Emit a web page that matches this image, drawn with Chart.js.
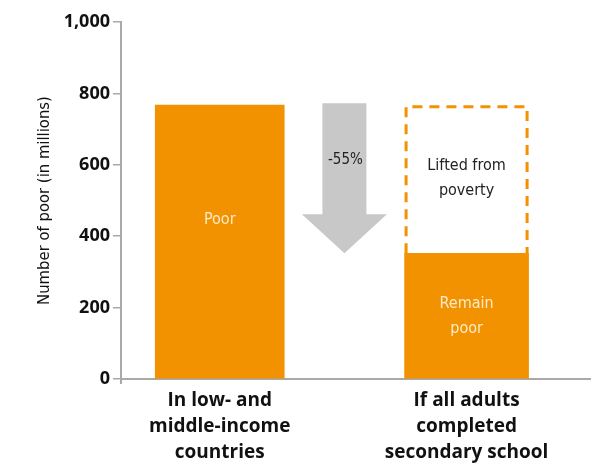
<!DOCTYPE html>
<html>
<head>
<meta charset="utf-8">
<script src="https://cdn.jsdelivr.net/npm/chart.js@4/dist/chart.umd.min.js"></script>
<style>
  html, body { margin: 0; padding: 0; background: #fff; }
  #wrap { width: 601px; height: 464px; position: relative; }
</style>
</head>
<body>
<div id="wrap"><canvas id="c" width="601" height="464"></canvas></div>
<script>
// Categories (x positions 1 and 2) and their multi-line labels
const categoryX = [1, 2];
const categoryLabels = [
  ['In low- and', 'middle-income', 'countries'],
  ['If all adults', 'completed', 'secondary school']
];
// Number of poor, in millions
const poorValues = [767, null];
const remainPoorValues = [null, 352];
const liftedFrom = [null, 352];
const liftedTo = [null, 767];
const changeLabel = '-55%';
const yTicks = [0, 200, 400, 600, 800, 1000];

const ORANGE = '#F29200';
const AXIS = '#a9a9a9';
const NARROW = '"Liberation Sans Narrow", "DejaVu Sans Condensed", "Noto Sans", sans-serif';
const BOLD = '"Open Sans", "Noto Sans", sans-serif';

const toPoints = vals => categoryX
  .map((x, i) => (vals[i] == null ? null : { x, y: vals[i] }))
  .filter(Boolean);

const liftedPoints = categoryX
  .map((x, i) => (liftedFrom[i] == null ? null : { x, y: [liftedFrom[i], liftedTo[i]] }))
  .filter(Boolean);

// Annotations: arrow, dashed "lifted" outline, in-bar texts
const annotate = {
  id: 'annotate',
  afterDatasetsDraw(chart) {
    const ctx = chart.ctx;
    const y = chart.scales.y;
    const area = chart.chartArea;
    const poorBar = chart.getDatasetMeta(0).data[0];
    const remainBar = chart.getDatasetMeta(1).data[0];
    const liftedBar = chart.getDatasetMeta(2).data[0];

    // y axis line runs a little below the x axis
    ctx.save();
    ctx.strokeStyle = AXIS;
    ctx.lineWidth = 2;
    ctx.beginPath();
    ctx.moveTo(area.left, area.bottom);
    ctx.lineTo(area.left, area.bottom + 5);
    ctx.stroke();
    ctx.restore();

    // dashed outline of the lifted-from-poverty range
    ctx.save();
    const lw = liftedBar.width;
    const lx0 = liftedBar.x - lw / 2 + 1.5, lx1 = liftedBar.x + lw / 2 - 1.5;
    const ly0 = liftedBar.y + 1.5, ly1 = liftedBar.base;
    ctx.strokeStyle = ORANGE;
    ctx.lineWidth = 3;
    ctx.setLineDash([10, 7]);
    ctx.beginPath();
    ctx.moveTo(lx0, ly1);
    ctx.lineTo(lx0, ly0);
    ctx.lineTo(lx1, ly0);
    ctx.lineTo(lx1, ly1);
    ctx.stroke();
    ctx.restore();

    // downward arrow between the bars
    const ax = ((poorBar.x + poorBar.width / 2) + (remainBar.x - remainBar.width / 2)) / 2;
    const top = y.getPixelForValue(poorValues[0]) - 2;
    const tip = y.getPixelForValue(remainPoorValues[1]);
    const headLen = 39, shaftHalf = 22, headHalf = 42.5;
    ctx.save();
    ctx.fillStyle = '#c8c8c8';
    ctx.beginPath();
    ctx.moveTo(ax - shaftHalf, top);
    ctx.lineTo(ax + shaftHalf, top);
    ctx.lineTo(ax + shaftHalf, tip - headLen);
    ctx.lineTo(ax + headHalf, tip - headLen);
    ctx.lineTo(ax, tip);
    ctx.lineTo(ax - headHalf, tip - headLen);
    ctx.lineTo(ax - shaftHalf, tip - headLen);
    ctx.closePath();
    ctx.fill();

    ctx.textAlign = 'center';
    ctx.textBaseline = 'middle';
    ctx.font = '15px ' + NARROW;
    ctx.fillStyle = '#222';
    ctx.fillText(changeLabel, ax + 1, top + 57);

    // texts inside the bars
    ctx.font = '16px ' + NARROW;
    ctx.fillStyle = '#fdebc8';
    ctx.fillText('Poor', poorBar.x, poorBar.y + (poorBar.base - poorBar.y) * 0.42);
    const rm = (remainBar.y + remainBar.base) / 2;
    ctx.fillText('Remain', remainBar.x, rm - 12);
    ctx.fillText('poor', remainBar.x, rm + 13);

    ctx.fillStyle = '#222';
    const lm = (liftedBar.y + liftedBar.base) / 2;
    ctx.fillText('Lifted from', liftedBar.x, lm - 13);
    ctx.fillText('poverty', liftedBar.x, lm + 12);
    ctx.restore();
  }
};

new Chart(document.getElementById('c'), {
  type: 'bar',
  data: {
    datasets: [
      { label: 'Poor', data: toPoints(poorValues), backgroundColor: ORANGE, barThickness: 129, grouped: false },
      { label: 'Remain poor', data: toPoints(remainPoorValues), backgroundColor: ORANGE, barThickness: 124, grouped: false },
      { label: 'Lifted from poverty', data: liftedPoints, backgroundColor: 'rgba(0,0,0,0)', borderWidth: 0, barThickness: 124, grouped: false }
    ]
  },
  plugins: [annotate],
  options: {
    responsive: false,
    animation: false,
    layout: { padding: { top: 22, right: 11, bottom: 0, left: 0 } },
    plugins: { legend: { display: false }, tooltip: { enabled: false } },
    scales: {
      x: {
        type: 'linear',
        min: 0.6,
        max: 2.5,
        offset: false,
        bounds: 'data',
        afterBuildTicks(scale) { scale.ticks = categoryX.map(v => ({ value: v })); },
        afterFit(scale) { scale.height = 85; },
        grid: { display: false, drawTicks: false, offset: false },
        border: { color: AXIS, width: 2 },
        ticks: {
          padding: 9,
          color: '#111',
          font: { family: BOLD, size: 19, weight: 'bold', lineHeight: 1.37 },
          callback: v => categoryLabels[categoryX.indexOf(v)] || ''
        }
      },
      y: {
        min: 0,
        max: 1000,
        afterBuildTicks(scale) { scale.ticks = yTicks.map(v => ({ value: v })); },
        afterFit(scale) { scale.width = 121; },
        grid: { drawOnChartArea: false, drawTicks: true, tickLength: 8, color: AXIS, lineWidth: 1.5 },
        border: { color: AXIS, width: 2 },
        ticks: {
          padding: 3,
          color: '#111',
          font: { family: BOLD, size: 18, weight: 'bold' },
          callback: v => v.toLocaleString('en-US')
        },
        title: {
          display: true,
          text: 'Number of poor (in millions)',
          color: '#111',
          font: { family: NARROW, size: 16.5 },
          padding: { top: 35, bottom: 0 }
        }
      }
    }
  }
});
</script>
</body>
</html>
